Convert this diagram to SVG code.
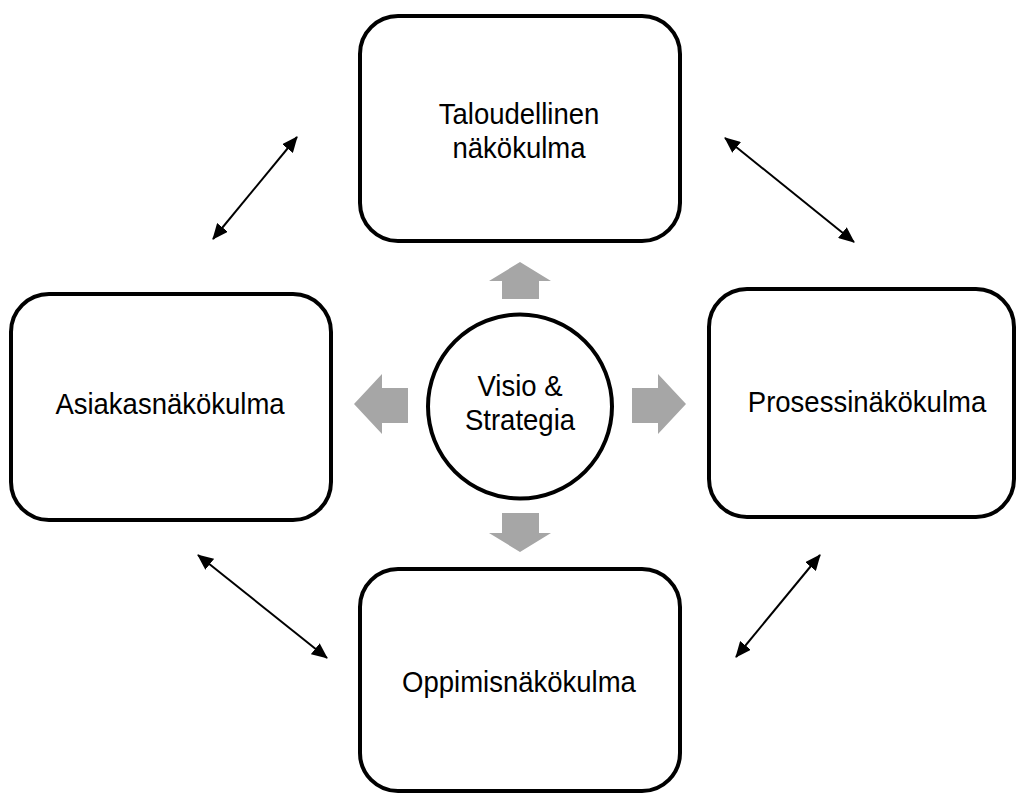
<svg xmlns="http://www.w3.org/2000/svg" width="1019" height="794" viewBox="0 0 1019 794">
  <style>
    .box { fill: #ffffff; stroke: #000000; stroke-width: 4; }
    .lbl { font-family: "Liberation Sans", Arial, sans-serif; font-size: 30px; fill: #000000; text-anchor: middle; }
    .gray { fill: #A6A6A6; stroke: none; }
    .conn { stroke: #000000; stroke-width: 2; fill: none; marker-start: url(#head); marker-end: url(#head); }
  </style>
  <defs>
    <marker id="head" viewBox="0 0 16 14" refX="15" refY="7" markerWidth="16" markerHeight="14" markerUnits="userSpaceOnUse" orient="auto-start-reverse">
      <path d="M0,0 L16,7 L0,14 Z" fill="#000000"/>
    </marker>
  </defs>
  <rect width="1019" height="794" fill="#ffffff"/>

  <g id="node-taloudellinen">
    <rect class="box" x="360" y="16" width="320" height="225" rx="38" ry="38"/>
    <text class="lbl" transform="translate(519,124) scale(0.917,1)"><tspan x="0" y="0">Taloudellinen</tspan><tspan x="0" y="34">näkökulma</tspan></text>
  </g>

  <g id="node-asiakas">
    <rect class="box" x="11" y="294" width="320" height="226" rx="38" ry="38"/>
    <text class="lbl" transform="translate(170,414) scale(0.917,1)">Asiakasnäkökulma</text>
  </g>

  <g id="node-prosessi">
    <rect class="box" x="709" y="289" width="305" height="228" rx="38" ry="38"/>
    <text class="lbl" transform="translate(867,412) scale(0.917,1)">Prosessinäkökulma</text>
  </g>

  <g id="node-oppimis">
    <rect class="box" x="360" y="569" width="320" height="222" rx="38" ry="38"/>
    <text class="lbl" transform="translate(519,692) scale(0.917,1)">Oppimisnäkökulma</text>
  </g>

  <g id="node-visio">
    <circle class="box" cx="520" cy="406.5" r="92"/>
    <text class="lbl" transform="translate(520,396) scale(0.917,1)"><tspan x="0" y="0">Visio &amp;</tspan><tspan x="0" y="34">Strategia</tspan></text>
  </g>

  <g id="gray-arrows">
    <polygon class="gray" points="520,262 551,281 539,281 539,299 502,299 502,281 489,281"/>
    <polygon class="gray" points="520,552 551,533 539,533 539,513 502,513 502,533 489,533"/>
    <polygon class="gray" points="686,404 658,374 658,388 632,388 632,423 658,423 658,434"/>
    <polygon class="gray" points="354,404 382,374 382,388 408,388 408,423 382,423 382,434"/>
  </g>

  <g id="connectors">
    <line class="conn" x1="297" y1="137" x2="213" y2="239"/>
    <line class="conn" x1="725" y1="138" x2="854" y2="242"/>
    <line class="conn" x1="198" y1="555" x2="327" y2="658"/>
    <line class="conn" x1="820" y1="555" x2="736" y2="657"/>
  </g>
</svg>
